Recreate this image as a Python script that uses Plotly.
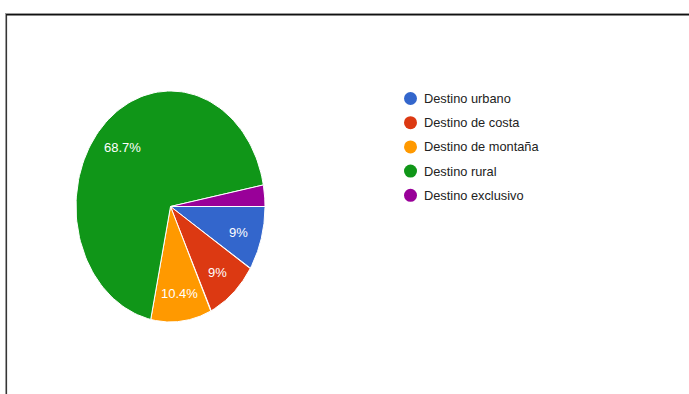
import numpy as np
import plotly.graph_objects as go

# Survey answers: preferred type of destination
labels = ["Destino urbano", "Destino de costa", "Destino de montaña", "Destino rural", "Destino exclusivo"]
counts = [6, 6, 7, 46, 2]
colors = ["#3366cc", "#dc3912", "#ff9900", "#109618", "#990099"]

W, H = 689, 394
# Pie geometry (pixel space, y grows downward)
cx, cy = 170.5, 206.5
rx, ry = 94.5, 115.5
label_r = 0.74
font = "Liberation Sans, Arial, sans-serif"

fig = go.Figure()

fracs = np.array(counts, dtype=float) / sum(counts)
start = 0.0
annotations = []
for lab, frac, col in zip(labels, fracs, colors):
    a0 = start * 2 * np.pi
    a1 = (start + frac) * 2 * np.pi
    t = np.linspace(a0, a1, 120)
    xs = np.concatenate([[cx], cx + rx * np.cos(t), [cx]])
    ys = np.concatenate([[cy], cy + ry * np.sin(t), [cy]])
    fig.add_trace(go.Scatter(
        x=xs, y=ys, mode="lines", fill="toself", fillcolor=col,
        line=dict(color="white", width=1), hoverinfo="skip", showlegend=False,
    ))
    if frac > 0.05:
        am = (a0 + a1) / 2
        pct = f"{frac * 100:.1f}".rstrip("0").rstrip(".") + "%"
        annotations.append(dict(
            x=cx + label_r * rx * np.cos(am) + 1, y=cy + label_r * ry * np.sin(am) + 2,
            xref="x", yref="y", text=pct, showarrow=False,
            font=dict(family=font, size=13, color="white"),
            xanchor="center", yanchor="middle",
        ))
    start += frac

# Legend: colored dots with captions
leg_x, leg_y0, leg_step = 410.5, 98.5, 24.2
leg_ys = [leg_y0 + i * leg_step for i in range(len(labels))]
fig.add_trace(go.Scatter(
    x=[leg_x] * len(labels), y=leg_ys, mode="markers",
    marker=dict(size=13, color=colors, line=dict(width=0)),
    hoverinfo="skip", showlegend=False,
))
for lab, yy in zip(labels, leg_ys):
    annotations.append(dict(
        x=leg_x + 11, y=yy, xref="x", yref="y", text=lab, showarrow=False,
        font=dict(family=font, size=12.8, color="#222222"),
        xanchor="left", yanchor="middle",
    ))

# Frame lines along the top and left edges
shapes = [
    dict(type="line", xref="x", yref="y", x0=5, x1=W, y0=13.5, y1=13.5,
         line=dict(color="#9a9a9a", width=1)),
    dict(type="line", xref="x", yref="y", x0=6, x1=W, y0=14.8, y1=14.8,
         line=dict(color="#111111", width=1.6)),
    dict(type="line", xref="x", yref="y", x0=5.5, x1=5.5, y0=13, y1=H,
         line=dict(color="#9a9a9a", width=1)),
    dict(type="line", xref="x", yref="y", x0=6.6, x1=6.6, y0=14, y1=H,
         line=dict(color="#222222", width=1)),
]

fig.update_layout(
    width=W, height=H,
    margin=dict(l=0, r=0, t=0, b=0),
    paper_bgcolor="white", plot_bgcolor="white",
    xaxis=dict(range=[0, W], visible=False, fixedrange=True),
    yaxis=dict(range=[H, 0], visible=False, fixedrange=True),
    annotations=annotations, shapes=shapes,
    showlegend=False,
)

fig.write_html("out.html")
